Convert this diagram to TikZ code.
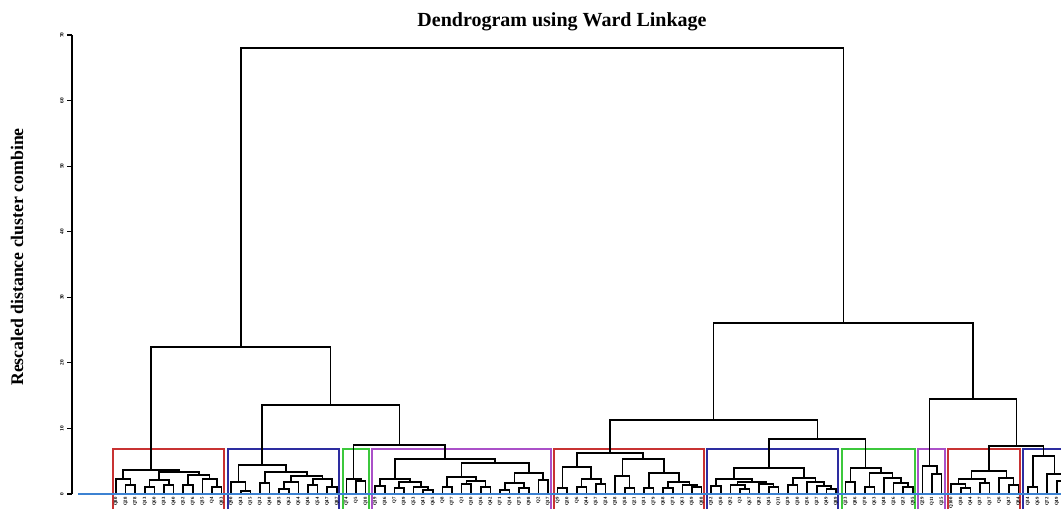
\documentclass[tikz,border=0pt]{standalone}
\usepackage{fontspec}
\setmainfont{Liberation Serif}
\definecolor{bred}{RGB}{200,50,50}
\definecolor{bblue}{RGB}{45,45,160}
\definecolor{bgreen}{RGB}{60,200,60}
\definecolor{bpurple}{RGB}{170,80,200}
\definecolor{basec}{RGB}{60,130,210}
\newcommand\mrg[5]{\draw[dl] (#1,#2) -- (#1,#5) -- (#3,#5) -- (#3,#4);}
\newcommand\cbox[3]{\draw[bx,#3] (#1,515) -- (#1,449) -- (#2,449) -- (#2,515);}
\begin{document}
\begin{tikzpicture}[x=0.75pt,y=-0.75pt,
  dl/.style={line width=1.1pt,black,line cap=rect},
  bx/.style={line width=1pt},
  leaf/.style={rotate=90,anchor=east,inner sep=0pt,font=\fontsize{3.6}{4}\selectfont\bfseries},
  tick/.style={rotate=90,inner sep=0pt,font=\fontsize{4}{4}\selectfont\bfseries}]
\useasboundingbox (0,0) rectangle (1061,508);
\clip (0,0) rectangle (1061,508);
% title and axis label
\node[font=\fontsize{15}{18}\selectfont\bfseries] (title) at (562,22) {Dendrogram using Ward Linkage};
\node[rotate=90,font=\fontsize{13.3}{16}\selectfont\bfseries] (ylab) at (17,257) {Rescaled distance cluster combine};
% y axis
\draw[line width=0.9pt] (72,35) -- (72,494);
\foreach \v [count=\k from 0] in {0,10,...,70}{
  \draw[line width=0.9pt] (67,{494-6.557*\v}) -- (72,{494-6.557*\v});
  \node[tick] (t\k) at (62,{494-6.557*\v}) {\v};
}
% cluster boxes
\cbox{113}{224}{bred}
\cbox{228}{339}{bblue}
\cbox{343}{369}{bgreen}
\cbox{372}{551}{bpurple}
\cbox{554}{704}{bred}
\cbox{707}{838}{bblue}
\cbox{842}{915}{bgreen}
\cbox{918}{945}{bpurple}
\cbox{948}{1020}{bred}
\cbox{1023}{1075}{bblue}
% cluster 1
\mrg{125.6}{494}{135.2}{494}{485}
\mrg{116}{494}{130.4}{485}{479}
\mrg{144.8}{494}{154.4}{494}{487}
\mrg{164}{494}{173.6}{494}{485}
\mrg{149.6}{487}{168.8}{485}{480}
\mrg{183.2}{494}{192.8}{494}{485}
\mrg{212}{494}{221.6}{494}{487}
\mrg{202.4}{494}{216.8}{487}{479}
\mrg{188}{485}{209.6}{479}{475}
\mrg{159.2}{480}{198.8}{475}{472}
\mrg{123.2}{479}{179}{472}{470}
% cluster 2
\mrg{240.8}{494}{250.4}{494}{491}
\mrg{231.2}{494}{245.6}{491}{482}
\mrg{260}{494}{269.6}{494}{483}
\mrg{279.2}{494}{288.8}{494}{489}
\mrg{284}{489}{298.4}{494}{482}
\mrg{308}{494}{317.6}{494}{485}
\mrg{327.2}{494}{336.8}{494}{487}
\mrg{312.8}{485}{332}{487}{479}
\mrg{291.2}{482}{322.4}{479}{476}
\mrg{264.8}{483}{306.8}{476}{472}
\mrg{238.4}{482}{285.8}{472}{465}
% cluster 3
\mrg{356}{494}{365.6}{494}{481}
\mrg{346.4}{494}{360.8}{481}{479}
% cluster 4
\mrg{375.2}{494}{384.8}{494}{486}
\mrg{394.4}{494}{404}{494}{488}
\mrg{423.2}{494}{432.8}{494}{490}
\mrg{413.6}{494}{428}{490}{487}
\mrg{399.2}{488}{420.8}{487}{482}
\mrg{380}{486}{410}{482}{479}
\mrg{442.4}{494}{452}{494}{487}
\mrg{461.6}{494}{471.2}{494}{484}
\mrg{480.8}{494}{490.4}{494}{487}
\mrg{466.4}{484}{485.6}{487}{481}
\mrg{447.2}{487}{476}{481}{477}
\mrg{500}{494}{509.6}{494}{490}
\mrg{519.2}{494}{528.8}{494}{488}
\mrg{504.8}{490}{524}{488}{483}
\mrg{538.4}{494}{548}{494}{480}
\mrg{514.4}{483}{543.2}{480}{473}
\mrg{461.6}{477}{528.8}{473}{463}
\mrg{395}{479}{495.2}{463}{459}
% left upper
\mrg{353.6}{479}{445.1}{459}{445}
\mrg{262.1}{465}{399.35}{445}{405}
\mrg{151.1}{470}{330.7}{405}{347}
% cluster 5
\mrg{557.6}{494}{567.2}{494}{488}
\mrg{576.8}{494}{586.4}{494}{487}
\mrg{596}{494}{605.6}{494}{484}
\mrg{581.6}{487}{600.8}{484}{479}
\mrg{562.4}{488}{591.2}{479}{467}
\mrg{624.8}{494}{634.4}{494}{488}
\mrg{615.2}{494}{629.6}{488}{476}
\mrg{644}{494}{653.6}{494}{488}
\mrg{663.2}{494}{672.8}{494}{488}
\mrg{692}{494}{701.6}{494}{487}
\mrg{682.4}{494}{696.8}{487}{485}
\mrg{668}{488}{689.6}{485}{482}
\mrg{648.8}{488}{678.8}{482}{473}
\mrg{622.4}{476}{663.8}{473}{459}
\mrg{576.8}{467}{643.1}{459}{453}
% cluster 6
\mrg{711.2}{494}{720.8}{494}{486}
\mrg{740}{494}{749.6}{494}{489}
\mrg{730.4}{494}{744.8}{489}{485}
\mrg{768.8}{494}{778.4}{494}{487}
\mrg{759.2}{494}{773.6}{487}{484}
\mrg{737.6}{485}{766.4}{484}{482}
\mrg{716}{486}{752}{482}{479}
\mrg{788}{494}{797.6}{494}{485}
\mrg{826.4}{494}{836}{494}{489}
\mrg{816.8}{494}{831.2}{489}{486}
\mrg{807.2}{494}{824}{486}{482}
\mrg{792.8}{485}{815.6}{482}{478}
\mrg{734}{479}{804.2}{478}{468}
% cluster 7
\mrg{845.6}{494}{855.2}{494}{482}
\mrg{864.8}{494}{874.4}{494}{487}
\mrg{903.2}{494}{912.8}{494}{487}
\mrg{893.6}{494}{908}{487}{483}
\mrg{884}{494}{900.8}{483}{478}
\mrg{869.6}{487}{892.4}{478}{473}
\mrg{850.4}{482}{881}{473}{468}
\mrg{769.1}{468}{865.7}{468}{439}
\mrg{609.95}{453}{817.4}{439}{420}
% cluster 8
\mrg{932}{494}{941.6}{494}{474}
\mrg{922.4}{494}{936.8}{474}{466}
% cluster 9
\mrg{960.8}{494}{970.4}{494}{488}
\mrg{951.2}{494}{965.6}{488}{484}
\mrg{980}{494}{989.6}{494}{483}
\mrg{958.4}{484}{984.8}{483}{479}
\mrg{1008.8}{494}{1018.4}{494}{485}
\mrg{999.2}{494}{1013.6}{485}{478}
\mrg{971.6}{479}{1006.4}{478}{471}
% cluster 10
\mrg{1028}{494}{1037.6}{494}{487}
\mrg{1056.8}{494}{1066.4}{494}{481}
\mrg{1047.2}{494}{1061.6}{481}{474}
\mrg{1032.8}{487}{1054.4}{474}{456}
% right upper
\mrg{989}{471}{1043.6}{456}{446}
\mrg{929.6}{466}{1016.3}{446}{399}
\mrg{713.7}{420}{972.95}{399}{323}
\mrg{240.9}{347}{843.3}{323}{48}
% baseline
\draw[basec,line width=1.1pt] (78,494) -- (1070,494);
% leaf labels
\foreach \t [count=\i] in {Q80,Q28,Q78,Q13,Q60,Q33,Q40,Q52,Q76,Q35,Q4,Q83,
  Q90,Q43,Q15,Q12,Q48,Q85,Q62,Q64,Q46,Q54,Q47,Q87,
  Q74,Q5,Q18,
  Q19,Q36,Q7,Q39,Q53,Q41,Q65,Q8,Q77,Q1,Q10,Q16,Q42,Q71,Q14,Q75,Q98,Q2,Q17,
  Q9,Q20,Q6,Q44,Q57,Q24,Q38,Q58,Q21,Q31,Q79,Q68,Q73,Q61,Q59,Q88,
  Q32,Q50,Q92,Q3,Q67,Q82,Q45,Q11,Q29,Q30,Q56,Q27,Q49,Q89,
  Q23,Q86,Q70,Q63,Q48,Q26,Q22,Q95,
  Q29,Q11,Q25,
  Q100,Q30,Q44,Q37,Q17,Q6,Q47,Q84,
  Q34,Q69,Q72,Q49,Q91}{
  \node[leaf] (q\i) at ({116+9.6*(\i-1)},497) {\t};
}
\end{tikzpicture}
\end{document}
